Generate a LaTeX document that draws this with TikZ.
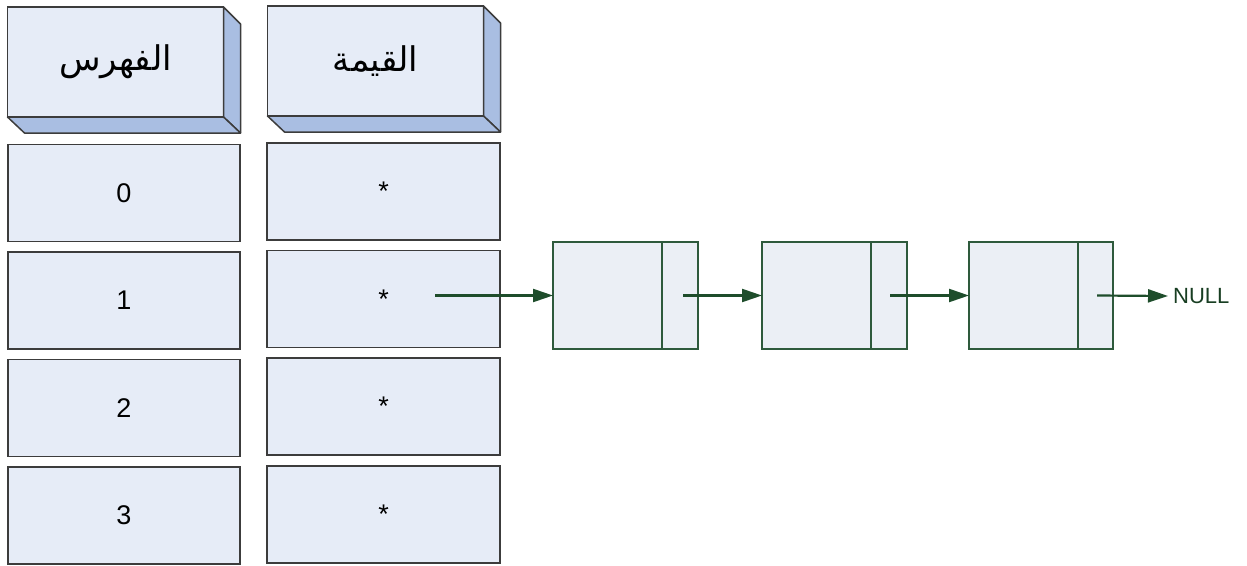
\documentclass[tikz,border=0pt]{standalone}
\usepackage{fontspec}
\setmainfont{Liberation Sans}
\newfontfamily\arabicfont[Script=Arabic]{DejaVu Sans}
\TeXXeTstate=1
\usetikzlibrary{arrows.meta}
\definecolor{cellfill}{HTML}{E6ECF7}
\definecolor{cellborder}{HTML}{3C3C3C}
\definecolor{sidefill}{HTML}{A9BEE2}
\definecolor{listfill}{HTML}{EBEFF5}
\definecolor{listborder}{HTML}{2E5A3C}
\definecolor{arrowcol}{HTML}{1E4D2B}
\tikzset{
  cell/.style={draw=cellborder, fill=cellfill, line width=1.8pt, inner sep=0pt, outer sep=0pt,
    minimum height=97pt, font=\fontsize{27}{27}\selectfont},
  col1/.style={cell, minimum width=232pt},
  col2/.style={cell, minimum width=233pt},
  header/.style={draw=cellborder, fill=cellfill, line width=1.8pt, inner sep=0pt, outer sep=0pt,
    minimum width=216pt, minimum height=110pt, font=\fontsize{34}{34}\arabicfont},
  side/.style={draw=cellborder, fill=sidefill, line width=1.5pt, line join=round},
  ldata/.style={draw=listborder, fill=listfill, line width=1.5pt, inner sep=0pt, outer sep=0pt,
    minimum width=109pt, minimum height=107pt},
  lptr/.style={draw=listborder, fill=listfill, line width=1.5pt, inner sep=0pt, outer sep=0pt,
    minimum width=36pt, minimum height=107pt},
  divider/.style={draw=listborder, line width=2.6pt},
  link/.style={draw=arrowcol, line width=2.2pt, -{Triangle[length=20pt,width=13pt]}},
}
\begin{document}
\begin{tikzpicture}[x=1pt,y=-1pt]
\useasboundingbox (0,0) rectangle (1247,565);

% headers
\node[header] (h1) at (115.5,62) {\beginR الفهرس\endR};
\node[header] (h2) at (375.5,61) {\beginR القيمة\endR};
\foreach \h in {h1,h2}{
  \draw[side] (\h.north east) -- ++(17,17) -- ([shift={(17,16)}]\h.south east) -- (\h.south east) -- cycle;
  \draw[side] (\h.south west) -- (\h.south east) -- ([shift={(17,16)}]\h.south east) -- ([shift={(17,16)}]\h.south west) -- cycle;
}

% index column
\node[col1] (i0) at (124,193) {0};
\node[col1] (i1) at (124,300.5) {1};
\node[col1] (i2) at (124,408) {2};
\node[col1] (i3) at (124,515.5) {3};

% value column
\node[col2] (v0) at (383.5,191.5) {*};
\node[col2] (v1) at (383.5,299) {*};
\node[col2] (v2) at (383.5,406.5) {*};
\node[col2] (v3) at (383.5,514.5) {*};

% linked list
\node[ldata] (n1d) at (607.5,295.5) {};
\node[lptr, anchor=west] (n1p) at (n1d.east) {};
\node[ldata] (n2d) at (816.5,295.5) {};
\node[lptr, anchor=west] (n2p) at (n2d.east) {};
\node[ldata] (n3d) at (1023.5,295.5) {};
\node[lptr, anchor=west, minimum width=35pt] (n3p) at (n3d.east) {};
\foreach \n in {n1d,n2d,n3d}{
  \draw[divider] (\n.north east) -- (\n.south east);
}
\node[anchor=west, inner sep=0pt, font=\fontsize{22}{22}\selectfont, text=arrowcol!80!black] (null) at (1173,296) {NULL};

\coordinate (s1) at (435,295.5);
\draw[link] (s1) -- (n1d.west);
\draw[link] ([xshift=3pt]n1p.center) -- (n2d.west);
\draw[link] ([xshift=1pt]n2p.center) -- (n3d.west);
\draw[link] ([xshift=1.5pt]n3p.center) -- ([xshift=-5pt]null.west);
\end{tikzpicture}
\end{document}
